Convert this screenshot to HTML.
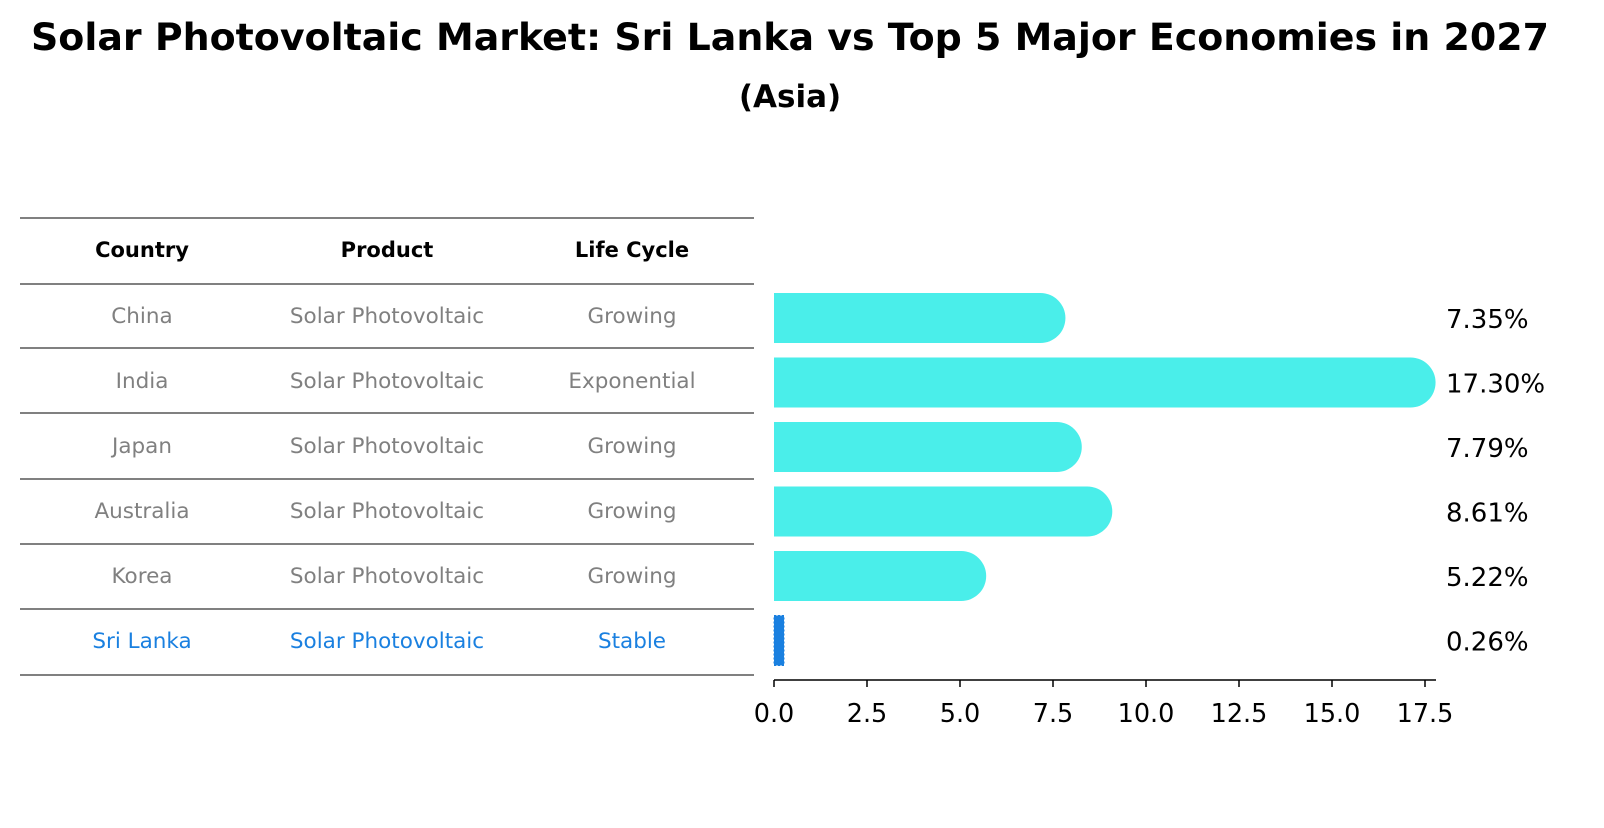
<!DOCTYPE html>
<html><head><meta charset="utf-8"><style>
body{margin:0;background:#fff;width:1604px;height:823px;overflow:hidden;font-family:"Liberation Sans","DejaVu Sans",sans-serif}
</style></head><body>
<svg width="1604" height="823" font-family="DejaVu Sans, Liberation Sans, sans-serif">
<text x="790" y="50" text-anchor="middle" font-size="37" font-weight="bold" textLength="1518" lengthAdjust="spacingAndGlyphs">Solar Photovoltaic Market: Sri Lanka vs Top 5 Major Economies in 2027</text>
<text x="790" y="107" text-anchor="middle" font-size="31" font-weight="bold">(Asia)</text>
<g id="table"></g>
<g id="bars"></g>
</svg>
<script>
const countries=["China","India","Japan","Australia","Korea","Sri Lanka"];
const products=["Solar Photovoltaic","Solar Photovoltaic","Solar Photovoltaic","Solar Photovoltaic","Solar Photovoltaic","Solar Photovoltaic"];
const lifeCycles=["Growing","Exponential","Growing","Growing","Growing","Stable"];
const values=[7.35,17.30,7.79,8.61,5.22,0.26];
const valueLabels=["7.35%","17.30%","7.79%","8.61%","5.22%","0.26%"];
const ticks=[0,2.5,5,7.5,10,12.5,15,17.5];
const tickLabels=["0.0","2.5","5.0","7.5","10.0","12.5","15.0","17.5"];
const NS="http://www.w3.org/2000/svg";
function mk(t,a,p){const e=document.createElementNS(NS,t);for(const k in a)e.setAttribute(k,a[k]);p.appendChild(e);return e;}
const x=v=>774+v*37.2;
const rowY=i=>318+i*64.5;
const tbl=document.getElementById('table');
const lines=[218,284,348,413,479,544,609,675];
lines.forEach((ly,i)=>{const l=mk('line',{x1:20,x2:754,y1:ly,y2:ly,stroke:'#000','stroke-width':1},tbl);

});
const cx=[142,387,632];
["Country","Product","Life Cycle"].forEach((h,j)=>{const t=mk('text',{x:cx[j],y:257,'text-anchor':'middle','font-size':21,'font-weight':'bold'},tbl);t.textContent=h;

});
countries.forEach((c,i)=>{const col=i===5?'#1a80e0':'#808080';const ty=[316,381,446,511,576,641][i]+7;
[c,products[i],lifeCycles[i]].forEach((s,j)=>{const t=mk('text',{x:cx[j],y:ty,'text-anchor':'middle','font-size':21.5,fill:col},tbl);t.textContent=s;

});});
const g=document.getElementById('bars');
values.forEach((v,i)=>{const cy=rowY(i);
if(i===5){const r=mk('rect',{x:774,y:cy-25,width:Math.max(x(v)-774,10),height:50,fill:'#1a80e0',stroke:'#1a80e0','stroke-dasharray':'2 2'},g);

}
else{const w=x(v)-774+18;const r=mk('rect',{x:774,y:cy-25,width:w-25,height:50,fill:'#4aeeea'},g);


const c=mk('rect',{x:774+w-50,y:cy-25,width:50,height:50,rx:25,fill:'#4aeeea'},g);

}
const t=mk('text',{x:1446,y:cy+10,'font-size':26},g);t.textContent=valueLabels[i];

});
const ax=mk('line',{x1:774,x2:1436,y1:680,y2:680,stroke:'#000','stroke-width':1.5},g);


ticks.forEach((v,i)=>{const tk=mk('line',{x1:x(v),x2:x(v),y1:680,y2:687,stroke:'#000','stroke-width':1.5},g);


const t=mk('text',{x:x(v),y:722,'text-anchor':'middle','font-size':25.5},g);t.textContent=tickLabels[i];

});
</script>
</body></html>
